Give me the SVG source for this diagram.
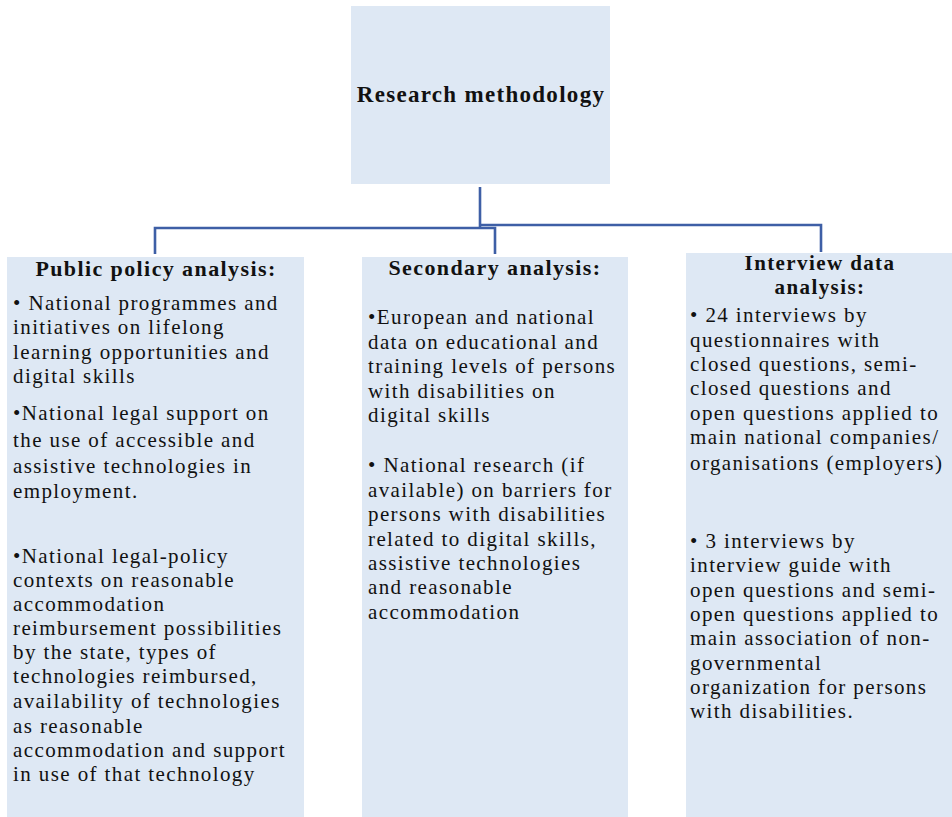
<svg xmlns="http://www.w3.org/2000/svg" width="952" height="817" viewBox="0 0 952 817">
<style>
.box{fill:#DEE8F4}
.t{font-family:"Liberation Serif","Times New Roman",serif;font-size:21px;letter-spacing:1.4px;fill:#111}
.h{font-family:"Liberation Serif","Times New Roman",serif;font-size:22px;font-weight:bold;letter-spacing:1.4px;fill:#111;text-anchor:middle}
.c{fill:none;stroke:#3E5FA6;stroke-width:2.6}
</style>
<rect width="952" height="817" fill="#fff"/>
<g id="connectors">
<path class="c" d="M480,187 V228"/>
<path class="c" d="M155,254 V228 H495 V254"/>
<path class="c" d="M480,225 H821 V252"/>
</g>
<g id="root">
<rect class="box" x="351" y="6" width="259" height="178"/>
<text class="h" x="481" y="102" style="font-size:23px;letter-spacing:1.3px">Research methodology</text>
</g>
<g id="public-policy">
<rect class="box" x="7" y="257" width="297" height="560"/>
<text class="h" x="156" y="276">Public policy analysis:</text>
<text class="t" x="13">
<tspan x="13" y="310">• National programmes and</tspan>
<tspan x="13" y="334">initiatives on lifelong</tspan>
<tspan x="13" y="359">learning opportunities and</tspan>
<tspan x="13" y="383">digital skills</tspan>
<tspan x="13" y="420">•National legal support on</tspan>
<tspan x="13" y="447">the use of accessible and</tspan>
<tspan x="13" y="473">assistive technologies in</tspan>
<tspan x="13" y="498">employment.</tspan>
<tspan x="13" y="563">•National legal-policy</tspan>
<tspan x="13" y="587">contexts on reasonable</tspan>
<tspan x="13" y="611">accommodation</tspan>
<tspan x="13" y="635">reimbursement possibilities</tspan>
<tspan x="13" y="659">by the state, types of</tspan>
<tspan x="13" y="683">technologies reimbursed,</tspan>
<tspan x="13" y="708">availability of technologies</tspan>
<tspan x="13" y="733">as reasonable</tspan>
<tspan x="13" y="757">accommodation and support</tspan>
<tspan x="13" y="781">in use of that technology</tspan>
</text>
</g>
<g id="secondary">
<rect class="box" x="362" y="257" width="266" height="560"/>
<text class="h" x="495" y="275">Secondary analysis:</text>
<text class="t" x="368">
<tspan x="368" y="324">•European and national</tspan>
<tspan x="368" y="349">data on educational and</tspan>
<tspan x="368" y="373">training levels of persons</tspan>
<tspan x="368" y="398">with disabilities on</tspan>
<tspan x="368" y="422">digital skills</tspan>
<tspan x="368" y="472">• National research (if</tspan>
<tspan x="368" y="497">available) on barriers for</tspan>
<tspan x="368" y="521">persons with disabilities</tspan>
<tspan x="368" y="546">related to digital skills,</tspan>
<tspan x="368" y="570">assistive technologies</tspan>
<tspan x="368" y="594">and reasonable</tspan>
<tspan x="368" y="619">accommodation</tspan>
</text>
</g>
<g id="interview">
<rect class="box" x="686" y="253" width="266" height="564"/>
<text class="h" x="820" y="270" style="font-size:21px">Interview data</text>
<text class="h" x="820" y="294" style="font-size:21px">analysis:</text>
<text class="t" x="690">
<tspan x="690" y="322">• 24 interviews by</tspan>
<tspan x="690" y="347">questionnaires with</tspan>
<tspan x="690" y="371">closed questions, semi-</tspan>
<tspan x="690" y="395">closed questions and</tspan>
<tspan x="690" y="420">open questions applied to</tspan>
<tspan x="690" y="444">main national companies/</tspan>
<tspan x="690" y="470">organisations (employers)</tspan>
<tspan x="690" y="548">• 3 interviews by</tspan>
<tspan x="690" y="572">interview guide with</tspan>
<tspan x="690" y="597">open questions and semi-</tspan>
<tspan x="690" y="621">open questions applied to</tspan>
<tspan x="690" y="645">main association of non-</tspan>
<tspan x="690" y="670">governmental</tspan>
<tspan x="690" y="694">organization for persons</tspan>
<tspan x="690" y="718">with disabilities.</tspan>
</text>
</g>
</svg>
